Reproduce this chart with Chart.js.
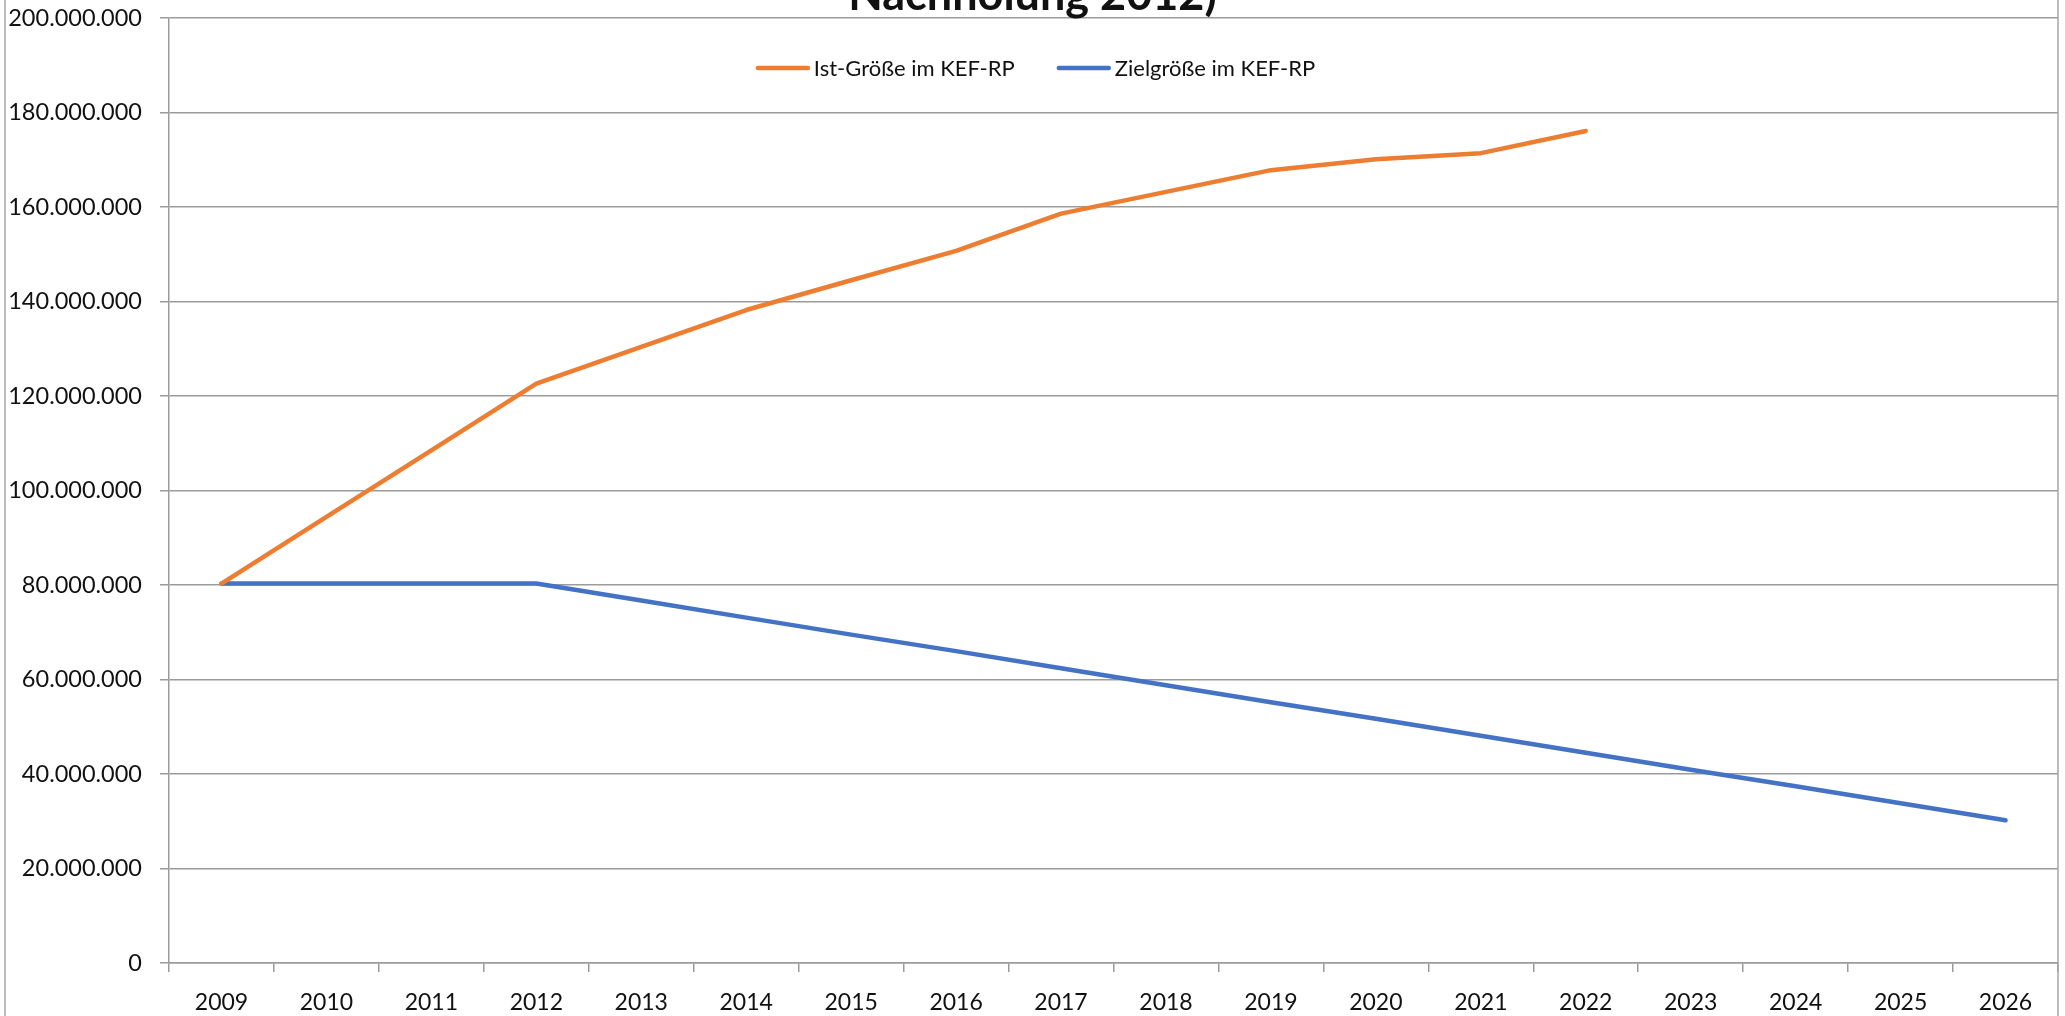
<!DOCTYPE html>
<html>
<head>
<meta charset="utf-8">
<script src="https://cdn.jsdelivr.net/npm/chart.js@4.4.1/dist/chart.umd.min.js"></script>
<style>
  html, body { margin: 0; padding: 0; background: #ffffff; overflow: hidden; }
  canvas { display: block; }
</style>
</head>
<body>
<canvas id="c" width="2065" height="1016"></canvas>
<script>
// Years on the category axis
const years = ['2009', '2010', '2011', '2012', '2013', '2014', '2015', '2016', '2017',
               '2018', '2019', '2020', '2021', '2022', '2023', '2024', '2025', '2026'];

// Actual size in the KEF-RP (known up to 2022)
const istGroesse = [80300000, 94400000, 108500000, 122600000, 130400000, 138200000,
                    144500000, 150700000, 158600000, 163200000, 167800000, 170100000,
                    171400000, 176100000, null, null, null, null];

// Target size in the KEF-RP
const zielGroesse = [80300000, 80300000, 80300000, 80300000, 76700000, 73100000,
                     69500000, 66000000, 62400000, 58800000, 55200000, 51700000,
                     48100000, 44500000, 40900000, 37400000, 33800000, 30200000];

// Value axis ticks
const yTickValues = [0, 20000000, 40000000, 60000000, 80000000, 100000000,
                     120000000, 140000000, 160000000, 180000000, 200000000];

const seriesNames = ['Ist-Größe im KEF-RP', 'Zielgröße im KEF-RP'];
const titleText = 'Nachholung 2012)';

const ORANGE = '#ED7D31';
const BLUE = '#4472C4';
const GRID = '#9b9b9b';
const TEXT = '#111111';
const FONT = 'Lato';

function formatThousands(v) {
  return String(v).replace(/\B(?=(\d{3})+(?!\d))/g, '.');
}

// Frame lines of the chart object, title (top cut) and legend row
const decorations = {
  id: 'decorations',
  afterDraw(chart) {
    const ctx = chart.ctx;
    const w = chart.width, h = chart.height;
    ctx.save();
    // outer frame verticals
    ctx.strokeStyle = '#a6a6a6';
    ctx.lineWidth = 1.5;
    ctx.beginPath();
    ctx.moveTo(5, 0); ctx.lineTo(5, h);
    ctx.moveTo(2058, 0); ctx.lineTo(2058, h);
    ctx.stroke();

    // title (second line of a heading whose upper part lies outside the canvas)
    ctx.fillStyle = TEXT;
    ctx.font = 'bold 45px ' + FONT;
    ctx.textAlign = 'center';
    ctx.textBaseline = 'alphabetic';
    ctx.fillText(titleText, w / 2, 10);

    // legend
    const ds = chart.data.datasets;
    ctx.font = '22px ' + FONT;
    ctx.textAlign = 'left';
    ctx.textBaseline = 'middle';
    const lineLen = 54, gapText = 4, gapItem = 42;
    const widths = ds.map(d => ctx.measureText(d.label).width);
    let total = 0;
    widths.forEach((tw, i) => { total += lineLen + gapText + tw + (i < widths.length - 1 ? gapItem : 0); });
    let x = w / 2 - total / 2 + 3;
    const y = 68;
    ds.forEach((d, i) => {
      ctx.strokeStyle = d.borderColor;
      ctx.lineWidth = 4.5;
      ctx.lineCap = 'round';
      ctx.beginPath();
      ctx.moveTo(x + 2, y);
      ctx.lineTo(x + lineLen - 2, y);
      ctx.stroke();
      ctx.fillStyle = TEXT;
      ctx.fillText(d.label, x + lineLen + gapText, y + 1);
      x += lineLen + gapText + widths[i] + gapItem;
    });
    ctx.restore();
  }
};

const lineStyle = {
  borderWidth: 4.5,
  pointRadius: 0,
  pointHoverRadius: 0,
  fill: false,
  tension: 0,
  borderCapStyle: 'round',
  borderJoinStyle: 'round',
  spanGaps: false
};

new Chart(document.getElementById('c'), {
  type: 'line',
  data: {
    labels: years,
    datasets: [
      Object.assign({ label: seriesNames[0], data: istGroesse, borderColor: ORANGE, backgroundColor: ORANGE }, lineStyle),
      Object.assign({ label: seriesNames[1], data: zielGroesse, borderColor: BLUE, backgroundColor: BLUE }, lineStyle)
    ]
  },
  options: {
    responsive: false,
    animation: false,
    devicePixelRatio: 1,
    layout: { padding: { top: 18, right: 7, left: 0, bottom: 0 } },
    plugins: {
      legend: { display: false },
      title: { display: false },
      tooltip: { enabled: false }
    },
    scales: {
      x: {
        type: 'category',
        offset: true,
        grid: {
          offset: true,
          drawOnChartArea: false,
          drawTicks: true,
          tickLength: 9,
          color: GRID,
          lineWidth: 1.5
        },
        border: { display: true, color: GRID, width: 1.5 },
        ticks: {
          color: TEXT,
          font: { family: FONT, size: 23 },
          padding: 17,
          maxRotation: 0,
          autoSkip: false
        },
        afterFit(scale) {
          scale.height = 53;
          scale.paddingLeft = 0;
          scale.paddingRight = 0;
        }
      },
      y: {
        min: 0,
        max: 200000000,
        afterBuildTicks(scale) { scale.ticks = yTickValues.map(v => ({ value: v })); },
        grid: {
          color: GRID,
          lineWidth: 1.5,
          drawTicks: true,
          tickLength: 9
        },
        border: { display: true, color: GRID, width: 1.5 },
        ticks: {
          color: TEXT,
          font: { family: FONT, size: 23.5 },
          padding: 18,
          callback: (v) => formatThousands(v)
        },
        afterFit(scale) {
          scale.width = 169;
          scale.paddingTop = 0;
          scale.paddingBottom = 0;
        }
      }
    }
  },
  plugins: [decorations]
});
</script>
</body>
</html>
